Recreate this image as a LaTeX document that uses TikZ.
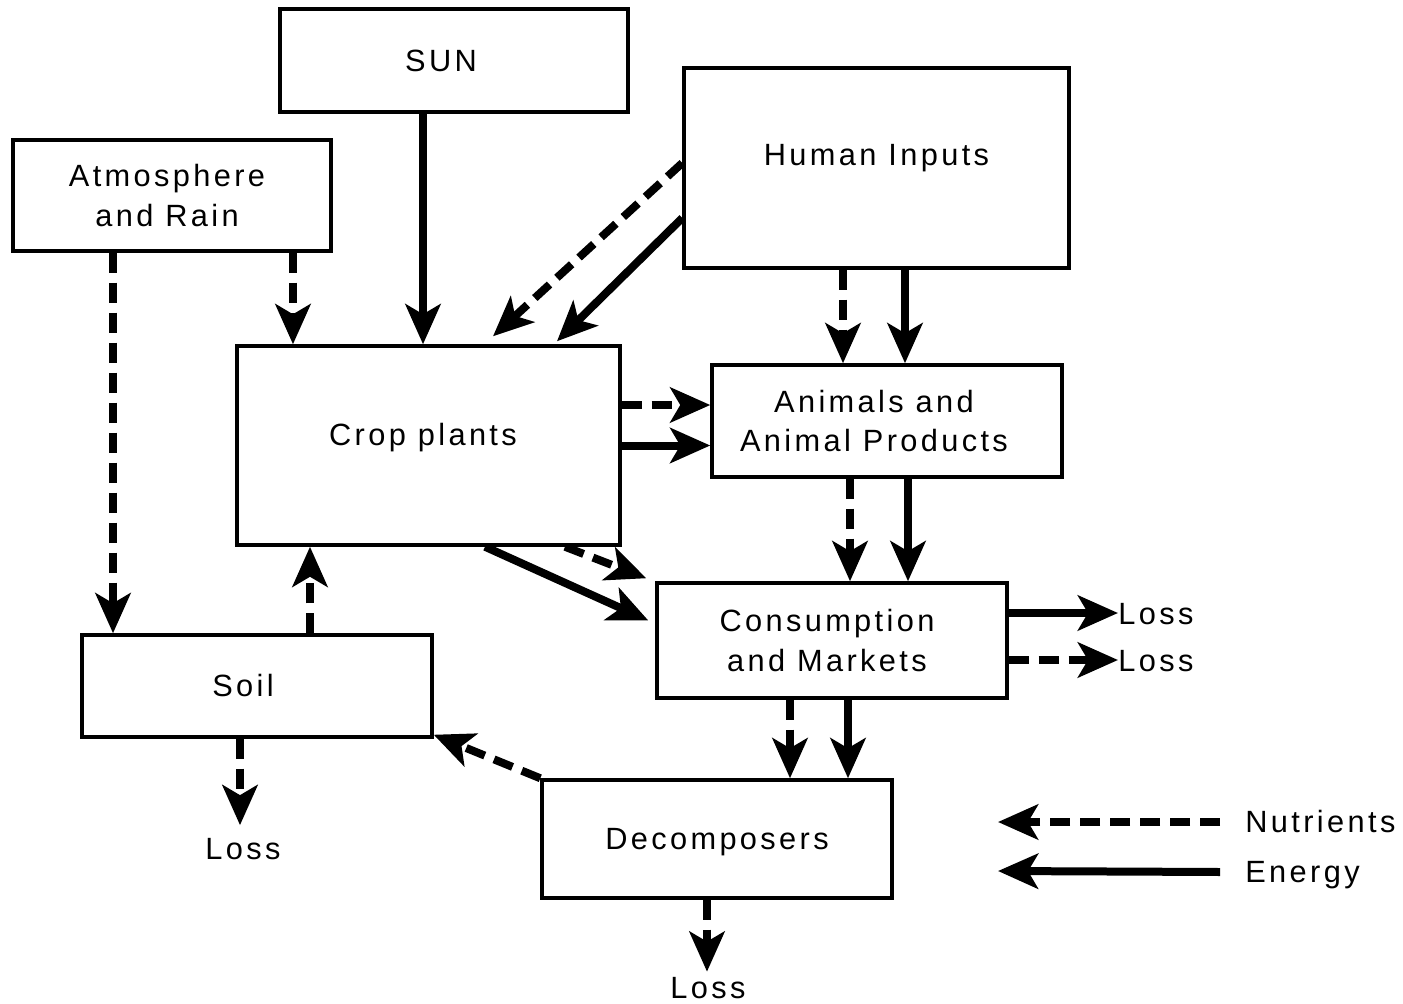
\documentclass[tikz,border=0pt]{standalone}
\usepackage{fontspec}
\setmainfont{Liberation Sans}[LetterSpace=11]
\usetikzlibrary{arrows.meta,calc}

\newcommand{\padr}[1]{\hbox to #1{}}

\tikzset{
  block/.style={draw, line width=0.07cm, inner sep=0pt, align=center},
  lbl/.style={inner sep=0pt, text height=12.5pt, text depth=0pt},
  energy/.style={line width=0.16cm, -{Stealth[length=0.8cm, width=0.7cm, inset=0.2cm]}},
  nutrient/.style={energy, dash pattern=on 0.4cm off 0.2cm}
}

\begin{document}
\begin{tikzpicture}[x=0.02cm, y=-0.02cm, font=\fontsize{17.5}{22.7}\selectfont]
  \useasboundingbox (0,0) rectangle (1403,1004);

  % boxes
  \node[block, lbl, minimum width=6.96cm, minimum height=2.06cm] (sun) at (454,60.5) {SUN\padr{0.52cm}};
  \node[block, lbl, text depth=0.52cm, minimum width=7.7cm, minimum height=4.0cm] (human) at (876.5,168) {Human Inputs};
  \node[block, minimum width=6.36cm, minimum height=2.22cm] (atmos) at (172,195.5) {Atmosphere\padr{0.2cm}\\and Rain\padr{0.2cm}};
  \node[block, lbl, text depth=12.5pt, minimum width=7.66cm, minimum height=3.98cm] (crop) at (428.5,445.5) {Crop plants\padr{0.22cm}};
  \node[block, minimum width=7.0cm, minimum height=2.24cm] (animals) at (887,421) {Animals and\padr{0.52cm}\\Animal Products\padr{0.52cm}};
  \node[block, minimum width=7.0cm, minimum height=2.3cm] (consum) at (832,640.5) {Consumption\padr{0.2cm}\\and Markets\padr{0.2cm}};
  \node[block, lbl, minimum width=7.0cm, minimum height=2.04cm] (soil) at (257,686) {Soil\padr{0.56cm}};
  \node[block, lbl, minimum width=7.0cm, minimum height=2.36cm] (decomp) at (717,839) {Decomposers};

  % losses
  \node[lbl, anchor=west] (loss1) at (1118,614) {Loss};
  \node[lbl, anchor=west] (loss2) at (1118,661) {Loss};
  \node[lbl] (lossS) at (243,849) {Loss};
  \node[lbl] (lossD) at (708,988) {Loss};

  % legend
  \node[lbl, anchor=west] (nutr) at (1245,822) {Nutrients};
  \node[lbl, anchor=west] (ener) at (1245,872) {Energy};
  \coordinate (nutrtip) at (998,822);
  \coordinate (enertip) at (998,871);

  % flows
  \draw[nutrient] ([xshift=-1.18cm]atmos.south) -- ([xshift=-1.18cm]atmos.south |- soil.north);
  \draw[nutrient] ([xshift=2.42cm]atmos.south) -- ([xshift=2.42cm]atmos.south |- crop.north);
  \draw[energy] ([xshift=-0.62cm]sun.south) -- ([xshift=-0.62cm]sun.south |- crop.north);
  \draw[nutrient] ([yshift=0.1cm]human.west) -- ([xshift=1.29cm,yshift=0.16cm]crop.north);
  \draw[energy] ([yshift=-1.0cm]human.west) -- ([xshift=2.57cm,yshift=0.06cm]crop.north);
  \draw[nutrient] ([xshift=-0.67cm]human.south) -- ([xshift=-0.67cm]human.south |- animals.north);
  \draw[energy] ([xshift=0.57cm]human.south) -- ([xshift=0.57cm]human.south |- animals.north);
  \draw[nutrient] ([yshift=0.81cm]crop.east) -- ([yshift=0.81cm]crop.east -| animals.west);
  \draw[energy] (crop.east) -- (crop.east -| animals.west);
  \draw[nutrient] ([xshift=2.73cm]crop.south) -- ([xshift=-0.18cm,yshift=0.06cm]consum.north west);
  \draw[energy] ([xshift=1.13cm]crop.south) -- ([xshift=-0.14cm,yshift=0.4cm]consum.west);
  \draw[nutrient] ([xshift=-0.74cm]animals.south) -- ([xshift=-0.74cm]animals.south |- consum.north);
  \draw[energy] ([xshift=0.42cm]animals.south) -- ([xshift=0.42cm]animals.south |- consum.north);
  \draw[energy] ([yshift=0.55cm]consum.east) -- ([yshift=0.55cm]consum.east -| loss1.west);
  \draw[nutrient] ([yshift=-0.39cm]consum.east) -- ([yshift=-0.39cm]consum.east -| loss2.west);
  \draw[nutrient] ([xshift=-0.84cm]consum.south) -- ([xshift=-0.84cm]consum.south |- decomp.north);
  \draw[energy] ([xshift=0.32cm]consum.south) -- ([xshift=0.32cm]consum.south |- decomp.north);
  \draw[nutrient] (decomp.north west) -- ([yshift=0.08cm]soil.south east);
  \draw[nutrient] ([xshift=1.06cm]soil.north) -- ([xshift=1.06cm]soil.north |- crop.south);
  \draw[nutrient] ([xshift=-0.34cm]soil.south) -- ([xshift=-0.34cm,yshift=0.25cm]soil.south |- lossS.north);
  \draw[nutrient] ([xshift=-0.2cm]decomp.south) -- ([xshift=-0.2cm,yshift=0.1cm]decomp.south |- lossD.north);
  \draw[nutrient] ([xshift=-0.5cm]nutr.west) -- (nutrtip);
  \draw[energy] ([xshift=-0.5cm]ener.west) -- (enertip);
\end{tikzpicture}
\end{document}
